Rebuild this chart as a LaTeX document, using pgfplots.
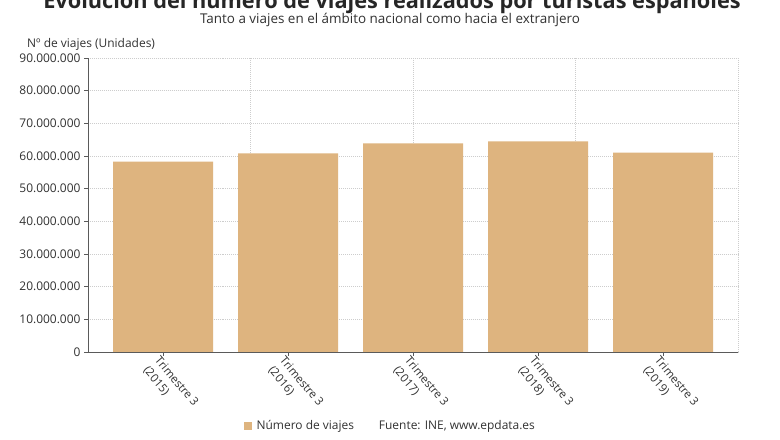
\documentclass[border=0pt]{standalone}
\usepackage{pgfplots}
\pgfplotsset{compat=1.18}
\usepackage{fontspec}
\setmainfont{Open Sans}
\definecolor{barcol}{RGB}{222,180,127}
\definecolor{axcol}{RGB}{90,90,90}
\definecolor{gridcol}{RGB}{205,205,205}
\definecolor{txtcol}{RGB}{50,50,50}
\begin{document}
\begin{tikzpicture}
\useasboundingbox (0,0) rectangle (780bp,440bp);
\fill[white] (0,0) rectangle (780bp,440bp);
\begin{axis}[
  at={(88bp,88bp)}, anchor=south west,
  scale only axis, width=650bp, height=294bp,
  xmin=-0.6, xmax=4.6, ymin=0, ymax=90000000,
  ybar, bar width=100bp,
  axis x line=bottom, axis y line=left,
  axis line style={-, axcol, line width=0.8pt},
  xtick={0,1,2,3,4},
  xticklabels={{Trimestre 3\\(2015)},{Trimestre 3\\(2016)},{Trimestre 3\\(2017)},{Trimestre 3\\(2018)},{Trimestre 3\\(2019)}},
  x tick label style={rotate=-50, anchor=north west, align=left, font=\fontsize{11.5}{15}\selectfont, text=txtcol, inner sep=1pt, xshift=-3bp},
  ytick={0,10000000,20000000,30000000,40000000,50000000,60000000,70000000,80000000,90000000},
  scaled y ticks=false,
  y tick label style={/pgf/number format/fixed, /pgf/number format/1000 sep={.}, /pgf/number format/assume math mode=true, font=\fontsize{12}{14}\selectfont, text=txtcol},
  tick style={axcol, line width=0.6pt},
  tick align=outside, major tick length=4bp,
  ymajorgrids,
  major grid style={gridcol, dash pattern=on 1pt off 1pt, line width=0.6pt},
  extra x ticks={0.7,2.0,3.3,4.6},
  extra x tick labels={},
  extra x tick style={grid=major, major tick length=0pt},
  legend style={at={(axis description cs:0.465,-0.252)}, anchor=center, draw=none, fill=none, legend columns=2, font=\fontsize{12}{14}\selectfont, text=txtcol, /tikz/every even column/.append style={column sep=18bp}, /tikz/every odd column/.append style={column sep=3bp}},
  legend image code/.code={\fill[barcol] (0bp,-4bp) rectangle (8bp,4bp);},
]
\addplot[fill=barcol, draw=none] coordinates {(0,58250000) (1,60800000) (2,63900000) (3,64500000) (4,61000000)};
\addlegendentry{Número de viajes}
\addlegendimage{empty legend}
\addlegendentry{Fuente: INE, www.epdata.es}
\end{axis}
\node[anchor=base, font=\fontsize{21.8}{24}\selectfont\bfseries, text=black!85] at (392bp,431bp) {Evolución del número de viajes realizados por turistas españoles};
\node[font=\fontsize{13.5}{16}\selectfont, text=txtcol] at (390bp,420bp) {Tanto a viajes en el ámbito nacional como hacia el extranjero};
\node[anchor=west, font=\fontsize{12}{14}\selectfont, text=txtcol, inner sep=0pt] at (27bp,396bp) {Nº de viajes (Unidades)};
\end{tikzpicture}
\end{document}
